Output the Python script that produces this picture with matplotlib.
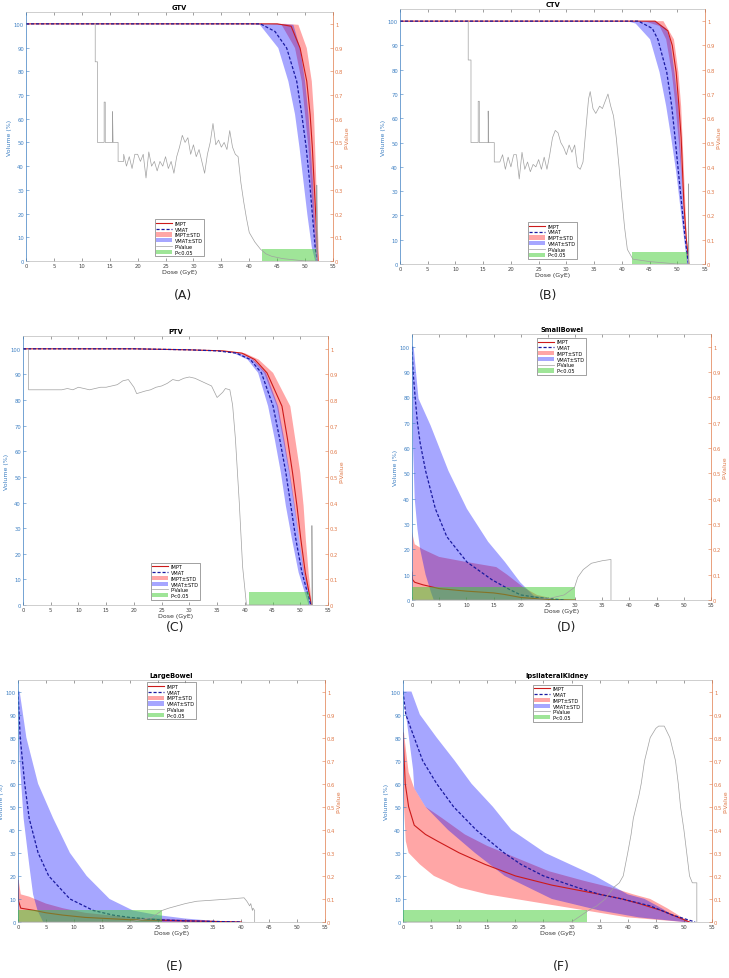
import numpy as np
import matplotlib
matplotlib.use("Agg")
import matplotlib.pyplot as plt
from matplotlib.patches import Patch
from matplotlib.lines import Line2D

# ---------------- data ----------------
# (A) GTV
gtv_impt_d = [0, 45, 47.5, 49.1, 50.3, 50.9, 51.3, 51.6, 51.9, 52.3]
gtv_impt_v = [100, 100, 99, 89.8, 75.8, 61.8, 47.8, 33.7, 19.7, 0]
gtv_vmat_d = [0, 42, 44.6, 46.7, 48.5, 49.4, 50.2, 50.8, 51.3, 51.8, 52.2]
gtv_vmat_v = [100, 100, 96.8, 89.8, 75.8, 61.8, 47.8, 33.7, 19.7, 5.8, 0]
gtv_impt_hi_d = [0, 46.5, 48.8, 50.3, 51.2, 51.6, 51.8, 52.0, 52.5]
gtv_impt_hi_v = [100, 100, 99.6, 89.8, 75.8, 61.8, 47.8, 33.7, 0]
gtv_impt_lo_d = [0, 43, 45.8, 48.2, 49.4, 50.0, 50.6, 51.0, 51.4, 52.1]
gtv_impt_lo_v = [100, 100, 99.6, 89.8, 75.8, 61.8, 47.8, 33.7, 19.7, 0]
gtv_vmat_hi_d = [0, 45, 47.9, 49.1, 50.0, 50.6, 51.0, 51.4, 51.7, 52.2]
gtv_vmat_hi_v = [100, 100, 99.6, 89.8, 75.8, 61.8, 47.8, 33.7, 19.7, 0]
gtv_vmat_lo_d = [0, 40, 41.9, 45.2, 47.0, 48.2, 49.0, 49.7, 50.4, 51.2, 51.8]
gtv_vmat_lo_v = [100, 100, 99.6, 89.8, 75.8, 61.8, 47.8, 33.7, 19.7, 5.8, 0]
gtv_p_d = [12.4, 12.4, 12.8, 12.8, 14.0, 14.0, 14.2, 14.2, 15.5, 15.5, 15.6, 16.5, 16.5, 17.5,
           17.5, 18.0, 18.5, 19.0, 19.5, 20, 20.5, 21, 21.5, 22, 22.5, 23, 23.5, 24, 24.5, 25,
           25.5, 26, 26.5, 27, 27.5, 28, 28.5, 29, 29.5, 30, 30.5, 31, 31.5, 32, 32.5, 33, 33.5,
           34, 34.5, 35, 35.5, 36, 36.5, 37, 37.5, 38, 38.5, 39, 39.5, 40, 41, 42, 43, 44, 46,
           50, 52.1, 52.1, 52.2]
gtv_p_v = [1.0, 0.84, 0.84, 0.5, 0.5, 0.67, 0.67, 0.5, 0.5, 0.63, 0.5, 0.5, 0.42, 0.42,
           0.45, 0.40, 0.44, 0.39, 0.45, 0.45, 0.42, 0.45, 0.35, 0.46, 0.40, 0.42, 0.38, 0.42, 0.40, 0.44,
           0.39, 0.42, 0.37, 0.44, 0.48, 0.53, 0.50, 0.52, 0.45, 0.49, 0.44, 0.47, 0.42, 0.37, 0.45, 0.50, 0.58,
           0.49, 0.51, 0.48, 0.50, 0.47, 0.55, 0.48, 0.45, 0.44, 0.33, 0.25, 0.18, 0.12, 0.08, 0.05, 0.03, 0.02, 0.01,
           0.0, 0.0, 0.32, 0.0]
gtv_sig = [42.3, 52.0]

# (B) CTV
ctv_impt_d = [0, 46, 48.3, 49.1, 49.8, 50.3, 50.7, 51.2, 51.6, 52.1]
ctv_impt_v = [100, 100, 96, 90, 79, 65, 52, 24.5, 11, 0]
ctv_vmat_d = [0, 43, 45.5, 46.5, 48.1, 49, 49.6, 50.2, 50.8, 51.4, 52]
ctv_vmat_v = [100, 100, 97, 92.5, 79, 65, 52, 38, 24.5, 11, 0]
ctv_impt_hi_d = [0, 47.5, 49.4, 50.2, 50.7, 51.2, 51.7, 52.1]
ctv_impt_hi_v = [100, 100, 92.5, 79, 65, 38, 11, 0]
ctv_impt_lo_d = [0, 44, 46.8, 48, 49, 49.7, 50.3, 50.8, 51.3, 52]
ctv_impt_lo_v = [100, 100, 98, 92.5, 79, 65, 50, 35, 18, 0]
ctv_vmat_hi_d = [0, 46, 48, 48.7, 49.5, 50.2, 50.8, 51.4, 52.1]
ctv_vmat_hi_v = [100, 100, 97, 92.5, 79, 65, 38, 11, 0]
ctv_vmat_lo_d = [0, 41, 42.5, 45.1, 46.8, 48, 48.9, 49.8, 50.5, 51.2, 51.8]
ctv_vmat_lo_v = [100, 100, 99, 92.5, 79, 65, 52, 38, 24.5, 11, 0]
ctv_p_d = [12.3, 12.3, 12.8, 12.8, 14.1, 14.1, 14.3, 14.3, 15.9, 15.9, 16.0, 17.0, 17.0, 18.0,
           18.5, 19.0, 19.5, 20, 20.5, 21, 21.5, 22, 22.5, 23, 23.5, 24, 24.5, 25, 25.5, 26, 26.5,
           27, 27.5, 28, 28.5, 29, 29.5, 30, 30.5, 31, 31.5, 32, 32.5, 33, 33.5, 34, 34.3, 34.8,
           35.3, 36, 36.5, 37, 37.5, 38, 38.5, 39, 39.5, 40, 40.5, 41, 42, 45, 50, 52.0, 52.0, 52.1]
ctv_p_v = [1.0, 0.84, 0.84, 0.5, 0.5, 0.67, 0.67, 0.5, 0.5, 0.63, 0.5, 0.5, 0.42, 0.42,
           0.45, 0.39, 0.44, 0.40, 0.45, 0.45, 0.35, 0.46, 0.39, 0.42, 0.38, 0.41, 0.40, 0.43, 0.39,
           0.44, 0.39, 0.45, 0.52, 0.55, 0.54, 0.50, 0.48, 0.45, 0.49, 0.46, 0.49, 0.40, 0.39, 0.42,
           0.55, 0.68, 0.71, 0.64, 0.62, 0.65, 0.64, 0.67, 0.70, 0.65, 0.61, 0.52, 0.40, 0.27, 0.15,
           0.06, 0.02, 0.01, 0.0, 0.0, 0.33, 0.0]
ctv_sig = [41.8, 51.8]

# (C) PTV
ptv_vol = [100, 100, 99.6, 99.2, 98.3, 95.8, 90.6, 77.6, 64.7, 51.7, 38.7, 25.7, 12.7, 0]
ptv_vmat_lo_d = [0, 20, 30, 35, 38, 40.5, 42.4, 44.2, 45.4, 46.5, 47.4, 48.5, 49.7, 51.5]
ptv_vmat_d = [0, 20, 30, 35, 38.5, 41, 43, 45.1, 46.3, 47.4, 48.3, 49.2, 50.3, 51.9]
ptv_vmat_hi_d = [0, 20, 30, 35.5, 39, 41.5, 43.8, 46, 47.1, 48.1, 49, 49.8, 50.7, 52]
ptv_impt_lo_d = [0, 20, 30, 35.5, 39, 41.3, 43.5, 45.8, 46.9, 48, 48.9, 49.8, 50.6, 52]
ptv_impt_d = [0, 20, 30, 36, 39.5, 41.8, 44, 46.7, 47.7, 48.6, 49.4, 50.1, 50.9, 52]
ptv_impt_hi_d = [0, 20, 30, 36.5, 40, 42.5, 45.1, 48.2, 49.1, 50, 50.6, 51, 51.5, 52.1]
ptv_p_d = [1.0, 1.0, 3, 5, 7, 8, 9, 10, 11, 12, 13, 14, 15, 16, 17, 18, 19, 20, 20.5, 22, 23, 24,
           25, 26, 27, 28, 29, 30, 31, 32, 33, 34, 35, 36, 36.5, 37.3, 37.8, 38.3, 39, 39.6, 40.3,
           45, 50, 52.1, 52.1, 52.2]
ptv_p_v = [1.0, 0.84, 0.84, 0.84, 0.84, 0.845, 0.84, 0.85, 0.845, 0.84, 0.845, 0.85, 0.85, 0.855,
           0.86, 0.875, 0.88, 0.85, 0.825, 0.835, 0.84, 0.85, 0.855, 0.865, 0.88, 0.875, 0.885, 0.89,
           0.885, 0.875, 0.865, 0.855, 0.81, 0.83, 0.845, 0.84, 0.78, 0.65, 0.40, 0.15, 0.0, 0.0, 0.0,
           0.0, 0.31, 0.0]
ptv_sig = [40.8, 51.6]

# (D) SmallBowel
sb_impt_d = [0, 0.1, 0.5, 2, 5, 10, 15, 17, 20, 25, 30]
sb_impt_v = [11, 8, 7, 6, 4.5, 3.5, 2.8, 2.2, 1, 0.2, 0]
sb_vmat_d = [0, 0.2, 0.6, 1.0, 1.5, 2.5, 4.3, 6.4, 10.1, 14.7, 17.8, 20, 23, 28]
sb_vmat_v = [100, 90, 79.5, 70, 62, 51, 36, 25, 15, 8, 4.3, 2, 1, 0]
sb_impt_hi_d = [0, 0.5, 2, 5, 10, 15.5, 17.5, 20.5, 23, 27]
sb_impt_hi_v = [27, 22, 20, 17, 15, 13, 10, 5, 2, 0]
sb_impt_lo_d = [0, 30]
sb_impt_lo_v = [0, 0]
sb_vmat_hi_d = [0, 0.3, 1.2, 3.4, 6.7, 10.1, 14, 17.1, 19.9, 22.4, 27]
sb_vmat_hi_v = [100, 100, 79.5, 69, 51, 36, 23, 15, 7, 1.7, 0]
sb_vmat_lo_d = [0, 0.2, 0.5, 1.0, 1.5, 2.5, 3.5, 4.0]
sb_vmat_lo_v = [100, 60, 40, 28, 20, 10, 3, 0]
sb_p_d = [0, 20, 25, 28, 29.9, 30.5, 31.5, 33, 35, 36.6, 36.6]
sb_p_v = [0, 0.0, 0.005, 0.02, 0.05, 0.09, 0.12, 0.145, 0.155, 0.16, 0.0]
sb_sig = [0, 29.9]

# (E) LargeBowel
lb_impt_d = [0, 0.1, 0.5, 3, 5, 8, 12, 20, 30, 40]
lb_impt_v = [18, 9, 6, 5, 4, 3, 2, 1, 0.5, 0]
lb_vmat_d = [0, 0.4, 1.2, 2, 3.6, 5.5, 9.3, 13.5, 17, 20, 25, 30, 40]
lb_vmat_v = [100, 80, 60, 45, 30, 20, 10, 5, 3, 2, 1, 0.5, 0]
lb_impt_hi_d = [0, 0.5, 2, 5, 8, 12, 16, 20, 25, 30, 35, 40]
lb_impt_hi_v = [20, 12, 11, 8, 6, 4, 3, 2, 1.5, 1, 0.5, 0]
lb_impt_lo_d = [0, 40]
lb_impt_lo_v = [0, 0]
lb_vmat_hi_d = [0, 0.3, 1.5, 3.6, 6.3, 9.3, 12.3, 16.4, 20.6, 25, 30, 35, 41]
lb_vmat_hi_v = [100, 100, 80, 60, 45, 30, 20, 10, 5, 3, 1.5, 0.5, 0]
lb_vmat_lo_d = [0, 0.3, 1, 2, 2.7, 3.5, 4.5]
lb_vmat_lo_v = [100, 70, 45, 25, 12, 5, 0]
lb_p_d = [0, 20, 24, 25.8, 27, 28.5, 30, 32, 35, 38, 40.5, 41.0, 41.5, 41.7, 42.0, 42.1, 42.4, 42.4]
lb_p_v = [0, 0.0, 0.02, 0.05, 0.06, 0.07, 0.08, 0.09, 0.095, 0.10, 0.105, 0.09, 0.07, 0.08, 0.05, 0.06, 0.05, 0.0]
lb_sig = [0, 25.8]

# (F) IpsilateralKidney
ik_impt_d = [0, 0.4, 1, 2, 4, 6.2, 10, 14.6, 20, 26.5, 35, 39, 42, 46, 49, 51]
ik_impt_v = [82, 60, 50, 42, 38, 35, 30, 25, 20, 16, 12, 10, 8, 5, 2, 0]
ik_vmat_d = [0, 0.5, 2, 3.5, 6, 9, 13, 18, 21, 25, 31, 35, 39, 44, 48, 52]
ik_vmat_v = [100, 90, 80, 70, 60, 50, 40, 30, 25, 20, 15, 12, 10, 7, 3, 0]
ik_impt_hi_d = [0, 0.5, 1, 2, 4, 7, 11, 15, 20, 26, 32, 37, 41, 44, 47, 49, 51]
ik_impt_hi_v = [86, 75, 65, 58, 50, 45, 38, 33, 28, 22, 18, 15, 12, 10, 6, 3, 0]
ik_impt_lo_d = [0, 0.5, 1, 3, 5.5, 10, 15, 20, 25, 30, 35, 40, 45, 50]
ik_impt_lo_v = [58, 35, 30, 25, 20, 15, 12, 10, 8, 6, 4, 2, 1, 0]
ik_vmat_hi_d = [0, 1.5, 3, 6, 9.2, 12.2, 16, 19.3, 25.3, 34.2, 40, 43, 46, 48, 51]
ik_vmat_hi_v = [100, 100, 90, 80, 70, 60, 50, 40, 30, 20, 12, 10, 6, 3, 0]
ik_vmat_lo_d = [0, 1.8, 2, 4, 6, 8, 12.8, 18.1, 26.5, 35, 42, 50]
ik_vmat_lo_v = [100, 66, 58, 50, 45, 40, 30, 20, 10, 5, 2, 0]
ik_p_d = [0, 30, 33, 34.5, 36, 37.5, 38.5, 39.2, 40, 40.6, 41, 42, 42.4, 43, 44, 45, 45.5, 46.5,
          47.5, 48.5, 49, 49.4, 50, 50.5, 51, 51.5, 52.3, 52.3]
ik_p_v = [0, 0.0, 0.05, 0.07, 0.1, 0.15, 0.17, 0.2, 0.3, 0.38, 0.45, 0.55, 0.6, 0.7, 0.8, 0.84, 0.85,
          0.85, 0.8, 0.7, 0.6, 0.5, 0.4, 0.3, 0.2, 0.17, 0.17, 0.0]
ik_sig = [0, 32.7]

# ---------------- style ----------------
C_LEFT = '#3c7fc2'
C_RIGHT = '#e07a4a'
C_IMPT = '#cc1a1a'
C_VMAT = '#1a1aa0'
C_IMPT_F = (1.0, 0.0, 0.0, 0.35)
C_VMAT_F = (0.0, 0.0, 1.0, 0.35)
C_SIG = (0.25, 0.8, 0.2, 0.5)
C_P = '#a0a0a0'

W, H = 729, 979
fig = plt.figure(figsize=(W / 100, H / 100), dpi=100)


def rect(l, t, r, b):
    return [l / W, 1 - b / H, (r - l) / W, (b - t) / H]


def band(ax, hd, hv, ld, lv, color):
    xs = list(hd) + list(ld)[::-1]
    ys = list(hv) + list(lv)[::-1]
    ax.fill(xs, ys, color=color, lw=0)


def panel(box, title, impt, vmat, impt_hi, impt_lo, vmat_hi, vmat_lo, pval, sig, leg_loc, leg_anchor):
    ax = fig.add_axes(rect(*box))
    band(ax, impt_hi[0], impt_hi[1], impt_lo[0], impt_lo[1], C_IMPT_F)
    band(ax, vmat_hi[0], vmat_hi[1], vmat_lo[0], vmat_lo[1], C_VMAT_F)
    ax.plot(impt[0], impt[1], color=C_IMPT, lw=0.8)
    ax.plot(vmat[0], vmat[1], color=C_VMAT, lw=0.9, ls=(0, (2.5, 1.5)))
    ax.set_xlim(0, 55)
    ax.set_ylim(0, 105)
    ax.set_xticks(np.arange(0, 56, 5))
    ax.set_yticks(np.arange(0, 101, 10))
    ax.tick_params(axis='both', direction='in', length=2, width=0.4, labelsize=3.8, pad=1.5)
    ax.tick_params(axis='x', top=True, colors='#555555', labelcolor='#444444')
    ax.tick_params(axis='y', colors=C_LEFT)
    ax.set_xlabel('Dose (GyE)', fontsize=4.5, labelpad=1, color='#333333')
    ax.set_ylabel('Volume (%)', fontsize=4.5, labelpad=1, color=C_LEFT)
    ax.set_title(title, fontsize=4.8, fontweight='bold', pad=2)
    for s in ['top', 'bottom']:
        ax.spines[s].set_color('#bbbbbb')
        ax.spines[s].set_linewidth(0.5)
    ax.spines['left'].set_color(C_LEFT)
    ax.spines['left'].set_linewidth(0.5)
    ax.spines['right'].set_visible(False)

    ax2 = ax.twinx()
    ax2.plot(pval[0], pval[1], color=C_P, lw=0.5)
    ax2.fill_between(sig, [0, 0], [0.05, 0.05], color=C_SIG, lw=0)
    ax2.set_ylim(0, 1.05)
    ax2.set_yticks(np.arange(0, 1.01, 0.1))
    ax2.set_yticklabels(['0'] + ['%.1f' % v for v in np.arange(0.1, 0.95, 0.1)] + ['1'])
    ax2.tick_params(axis='y', direction='in', length=2, width=0.4, labelsize=3.8, pad=1.5,
                    colors=C_RIGHT)
    ax2.set_ylabel('P-Value', fontsize=4.5, labelpad=1, color=C_RIGHT)
    for s in ['top', 'bottom', 'left']:
        ax2.spines[s].set_visible(False)
    ax2.spines['right'].set_color(C_RIGHT)
    ax2.spines['right'].set_linewidth(0.5)

    handles = [Line2D([], [], color=C_IMPT, lw=0.8),
               Line2D([], [], color=C_VMAT, lw=0.9, ls=(0, (2.5, 1.5))),
               Patch(facecolor=C_IMPT_F, lw=0),
               Patch(facecolor=C_VMAT_F, lw=0),
               Line2D([], [], color=C_P, lw=0.5),
               Patch(facecolor=C_SIG, lw=0)]
    labels = ['IMPT', 'VMAT', 'IMPT±STD', 'VMAT±STD', 'P-Value', 'P<0.05']
    leg = ax2.legend(handles, labels, loc=leg_loc, bbox_to_anchor=leg_anchor, fontsize=3.6,
                     frameon=True, fancybox=False, handlelength=3.2, handleheight=0.9,
                     borderpad=0.3, labelspacing=0.15, handletextpad=0.5, borderaxespad=0)
    leg.get_frame().set_edgecolor('#333333')
    leg.get_frame().set_linewidth(0.4)
    return ax


panel((26, 13, 333, 262), 'GTV',
      (gtv_impt_d, gtv_impt_v), (gtv_vmat_d, gtv_vmat_v),
      (gtv_impt_hi_d, gtv_impt_hi_v), (gtv_impt_lo_d, gtv_impt_lo_v),
      (gtv_vmat_hi_d, gtv_vmat_hi_v), (gtv_vmat_lo_d, gtv_vmat_lo_v),
      (gtv_p_d, gtv_p_v), gtv_sig, 'lower center', (0.5, 0.02))
panel((400, 10, 705, 265), 'CTV',
      (ctv_impt_d, ctv_impt_v), (ctv_vmat_d, ctv_vmat_v),
      (ctv_impt_hi_d, ctv_impt_hi_v), (ctv_impt_lo_d, ctv_impt_lo_v),
      (ctv_vmat_hi_d, ctv_vmat_hi_v), (ctv_vmat_lo_d, ctv_vmat_lo_v),
      (ctv_p_d, ctv_p_v), ctv_sig, 'lower center', (0.5, 0.02))
panel((23, 337, 328, 606), 'PTV',
      (ptv_impt_d, ptv_vol), (ptv_vmat_d, ptv_vol),
      (ptv_impt_hi_d, ptv_vol), (ptv_impt_lo_d, ptv_vol),
      (ptv_vmat_hi_d, ptv_vol), (ptv_vmat_lo_d, ptv_vol),
      (ptv_p_d, ptv_p_v), ptv_sig, 'lower center', (0.5, 0.02))
panel((412, 335, 711, 601), 'SmallBowel',
      (sb_impt_d, sb_impt_v), (sb_vmat_d, sb_vmat_v),
      (sb_impt_hi_d, sb_impt_hi_v), (sb_impt_lo_d, sb_impt_lo_v),
      (sb_vmat_hi_d, sb_vmat_hi_v), (sb_vmat_lo_d, sb_vmat_lo_v),
      (sb_p_d, sb_p_v), sb_sig, 'upper center', (0.5, 0.985))
panel((18, 681, 325, 923), 'LargeBowel',
      (lb_impt_d, lb_impt_v), (lb_vmat_d, lb_vmat_v),
      (lb_impt_hi_d, lb_impt_hi_v), (lb_impt_lo_d, lb_impt_lo_v),
      (lb_vmat_hi_d, lb_vmat_hi_v), (lb_vmat_lo_d, lb_vmat_lo_v),
      (lb_p_d, lb_p_v), lb_sig, 'upper center', (0.5, 0.99))
panel((403, 681, 712, 923), 'IpsilateralKidney',
      (ik_impt_d, ik_impt_v), (ik_vmat_d, ik_vmat_v),
      (ik_impt_hi_d, ik_impt_hi_v), (ik_impt_lo_d, ik_impt_lo_v),
      (ik_vmat_hi_d, ik_vmat_hi_v), (ik_vmat_lo_d, ik_vmat_lo_v),
      (ik_p_d, ik_p_v), ik_sig, 'upper center', (0.5, 0.98))

for lab, x, y in [('(A)', 183, 296), ('(B)', 548, 296), ('(C)', 175, 628),
                  ('(D)', 567, 628), ('(E)', 175, 967), ('(F)', 561, 967)]:
    fig.text(x / W, 1 - y / H, lab, fontsize=9, ha='center', va='center', color='#222222')

fig.savefig('out.png', dpi=100, facecolor='white')
